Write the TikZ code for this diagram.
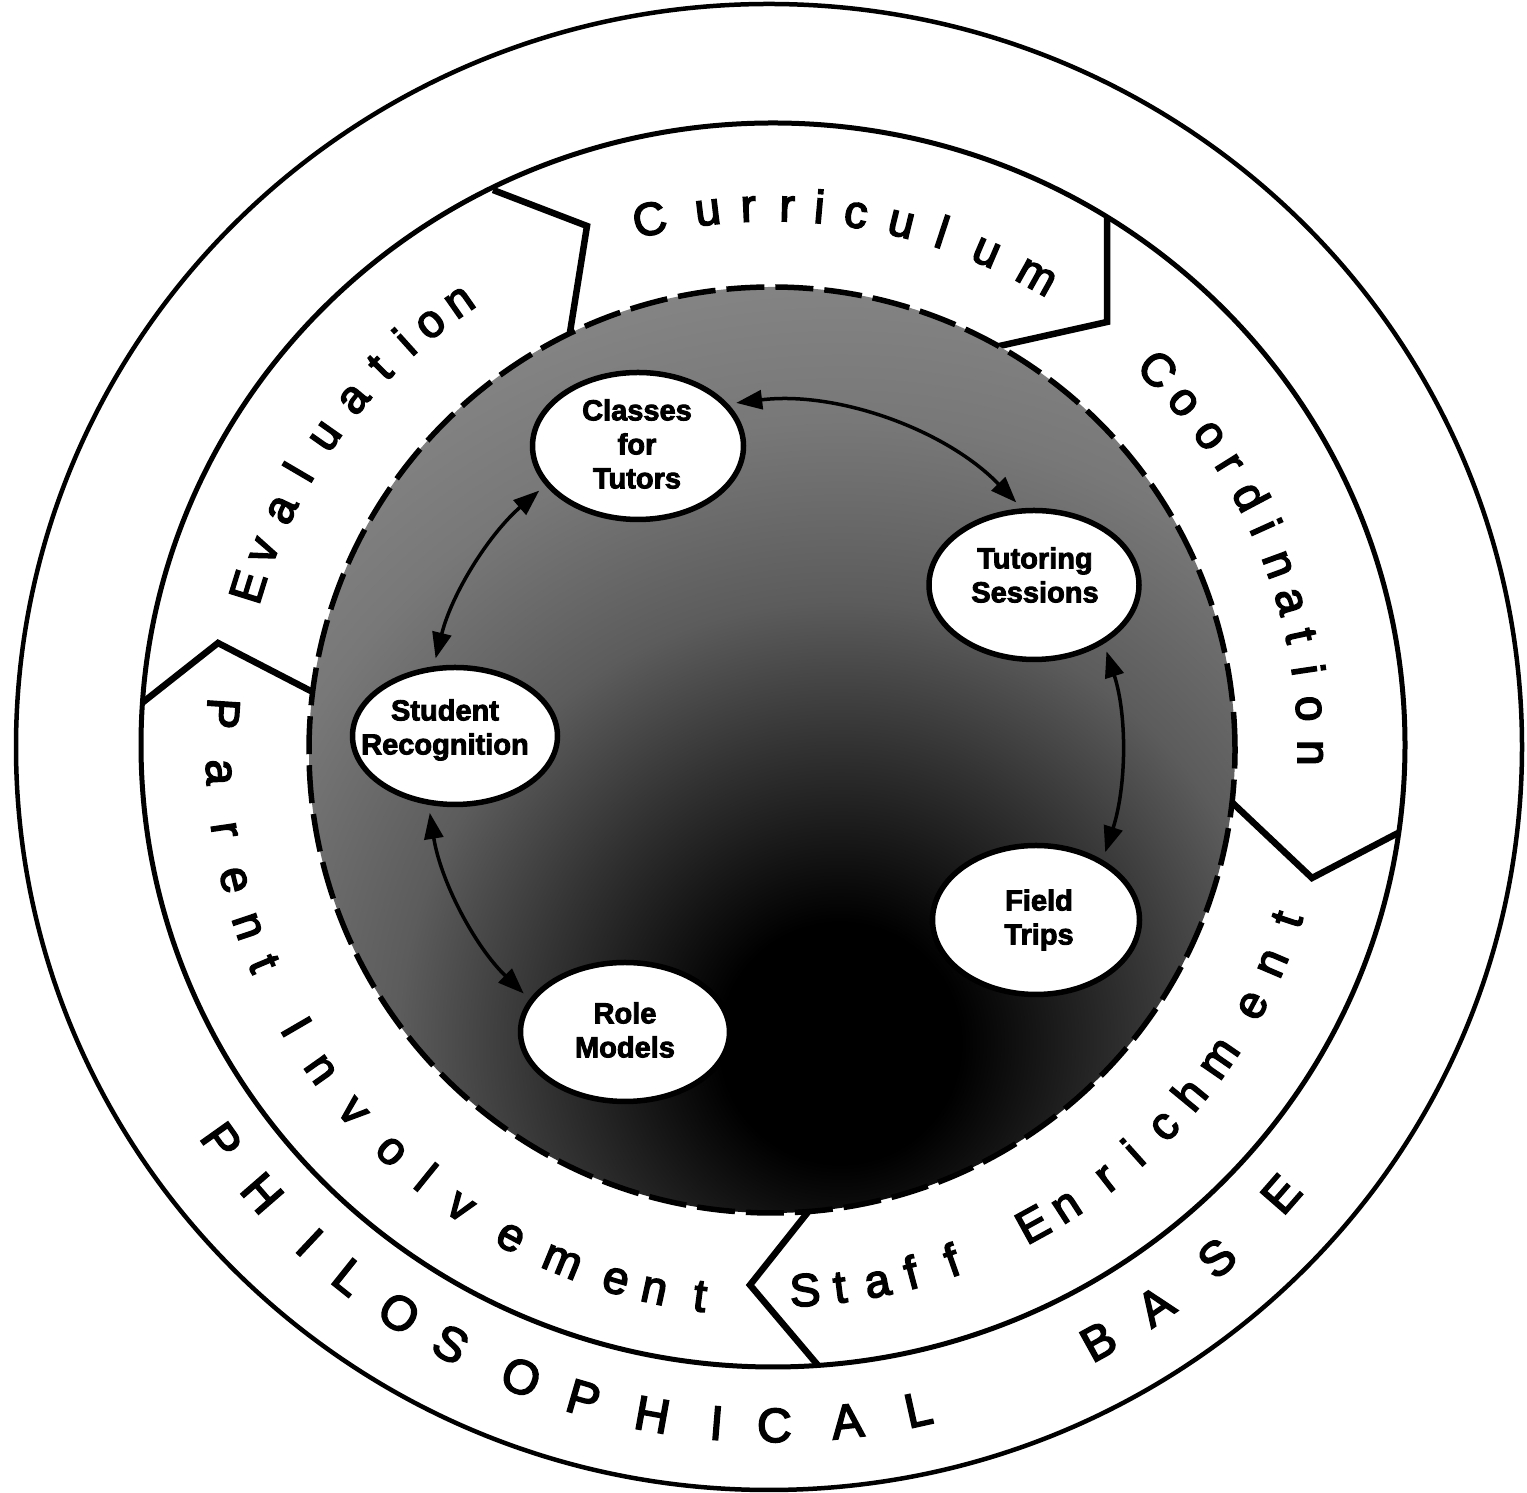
\documentclass[tikz,border=0pt]{standalone}
\usepackage{fontspec}
\setmainfont{Liberation Sans}
\newfontfamily\heavyfont{Liberation Sans Bold}[FakeBold=3]
\newfontfamily\ringfont{Liberation Sans}[FakeBold=3.5]
\usetikzlibrary{arrows.meta,shapes.geometric}
\pgfdeclareradialshading{darkcore}{\pgfpoint{0bp}{0bp}}{%
  color(0bp)=(black); color(120bp)=(black); color(300bp)=(black!80);
  color(440bp)=(black!64); color(620bp)=(black!53); color(800bp)=(black!47)}
\tikzset{
  ringline/.style={line width=4.5pt},
  bound/.style={line width=6.5pt, line join=miter},
  topic/.style={ellipse, draw, line width=5.5pt, fill=white, inner sep=0pt},
  topictext/.style={align=center, inner sep=0pt, font=\fontsize{29}{34}\heavyfont},
  conn/.style={line width=3.5pt, >={Triangle[length=26pt,width=19pt]}, <->, shorten <=8pt, shorten >=8pt, looseness=0.9},
  ringtxt/.style={font=\fontsize{46}{46}\ringfont, inner sep=0pt, anchor=base},
  basetxt/.style={font=\fontsize{48}{48}\ringfont, inner sep=0pt, anchor=base},
}
\begin{document}
\begin{tikzpicture}[x=1pt,y=1pt]
\useasboundingbox (0,0) rectangle (1527,1493);
\fill[white] (0,0) rectangle (1527,1493);
% rings
\draw[ringline] (769,746) ellipse[x radius=753, y radius=743];
\draw[line width=5pt] (773,748) ellipse[x radius=632, y radius=622];
% segment boundaries (chevrons)
\draw[bound] (493,1303) -- (587,1267) -- (569.8,1159.5);
\draw[bound] (1107,1275) -- (1107,1171) -- (998.6,1146.8);
\draw[bound] (1398,660) -- (1312,615) -- (1232,690.6);
\draw[bound] (808.3,281.4) -- (750,208) -- (818,127.6);
\draw[bound] (142,790) -- (218,850) -- (312.7,801);
% shaded core
\begin{scope}
  \clip (772,743) circle[radius=463];
  \node[inner sep=0pt, outer sep=0pt] (core) at (840,450) {\pgfuseshading{darkcore}};
\end{scope}
\draw[line width=5.5pt, dash pattern=on 38pt off 11pt] (772,743) circle[radius=463];
% topic ellipses
\node[topic, minimum width=211pt, minimum height=147pt] (classes) at (638,1047) {};
\node[topic, minimum width=210pt, minimum height=149pt] (tutoring) at (1034,908) {};
\node[topic, minimum width=205pt, minimum height=137pt] (student) at (455,757) {};
\node[topic, minimum width=209pt, minimum height=139pt] (role) at (625,461) {};
\node[topic, minimum width=207pt, minimum height=149pt] (field) at (1036,573) {};
\node[topictext] (classes-t) at (637,1049) {Classes\\for\\Tutors};
\node[topictext] (tutoring-t) at (1035,918) {Tutoring\\Sessions};
\node[topictext] (student-t) at (445,763) {Student\\Recognition};
\node[topictext] (role-t) at (625,463) {Role\\Models};
\node[topictext] (field-t) at (1039,573) {Field\\Trips};
% connectors
\draw[conn] (classes.25) to[out=7, in=134] (tutoring.99);
\draw[conn] (tutoring.-40) to[out=-72, in=72] (field.42);
\draw[conn] (classes.203) to[out=221, in=76] (student.107);
\draw[conn] (student.249) to[out=279, in=136] (role.161);
% ring texts (clockwise, tops outward)
\foreach \c/\a [count=\i] in {C/103.0,u/96.8,r/92.5,r/88.4,i/85.0,c/81.1,u/76.2,l/71.8,u/66.7,m/60.8}
  \node[ringtxt, rotate=\a-90] (cur\i) at ({772+529*cos(\a)},{743+529*sin(\a)}) {\c};
\foreach \c/\a [count=\i] in {E/162.7,v/158.6,a/153.9,l/149.6,u/144.9,a/140.0,t/135.7,i/132.0,o/128.7,n/124.9}
  \node[ringtxt, rotate=\a-90] (eva\i) at ({772+533*cos(\a)},{743+533*sin(\a)}) {\c};
\foreach \c/\a [count=\i] in {C/44.6,o/40.2,o/35.7,r/32.0,d/27.9,i/24.3,n/20.1,a/16.0,t/12.2,i/8.5,o/4.4,n/-0.3}
  \node[ringtxt, rotate=\a-90] (coo\i) at ({772+526*cos(\a)},{743+526*sin(\a)}) {\c};
% ring texts (counter-clockwise, tops inward)
\foreach \c/\a [count=\i] in {S/-86.5,t/-82.8,a/-78.8,f/-75.1,f/-70.6,E/-61.2,n/-57.2,r/-52.0,i/-48.1,c/-43.8,h/-39.5,m/-34.6,e/-28.0,n/-23.1,t/-18.2}
  \node[ringtxt, rotate=\a+90] (sta\i) at ({772+557*cos(\a)},{743+557*sin(\a)}) {\c};
\foreach \c/\a [count=\i] in {P/176.2,a/182.3,r/188.3,e/193.6,n/198.6,t/202.8,I/210.2,n/215.3,v/220.8,o/226.5,l/231.0,v/235.7,e/241.8,m/247.7,e/253.6,n/257.7,t/262.5}
  \node[ringtxt, rotate=\a+90] (par\i) at ({772+566*cos(\a)},{743+566*sin(\a)}) {\c};
\foreach \c/\a [count=\i] in {P/215.4,H/221.0,I/226.8,L/231.3,O/236.5,S/241.6,O/248.2,P/253.8,H/259.8,I/265.3,C/270.2,A/276.4,L/282.5,B/298.9,A/304.6,S/311.2,E/318.9}
  \node[basetxt, rotate=\a+90] (phi\i) at ({772+692*cos(\a)},{743+692*sin(\a)}) {\c};
\end{tikzpicture}
\end{document}
